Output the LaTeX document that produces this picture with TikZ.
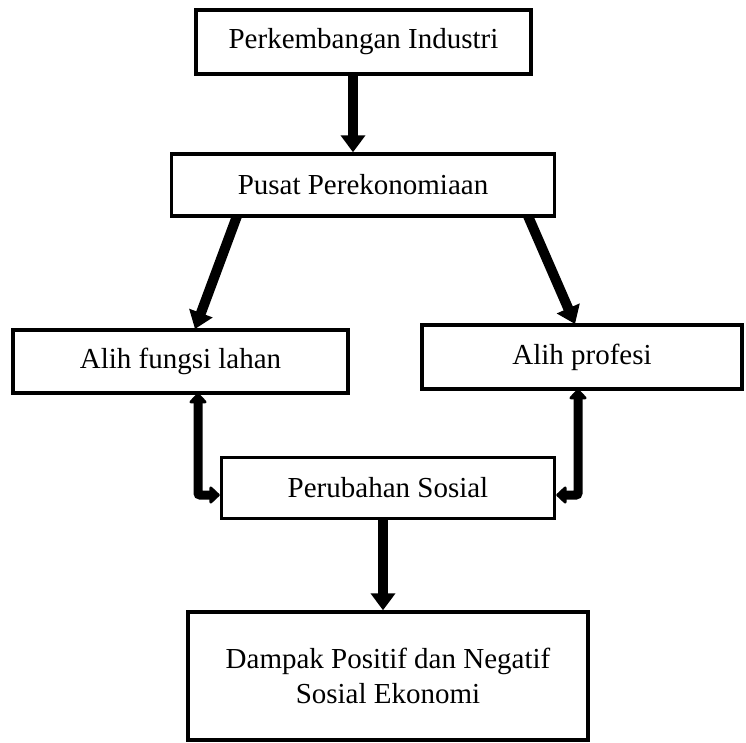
\documentclass[tikz,border=0pt]{standalone}
\usepackage{fontspec}
\setmainfont{Liberation Serif}
\usetikzlibrary{arrows.meta,calc}
\begin{document}
\begin{tikzpicture}[x=1pt,y=-1pt,
  box/.style={draw,line width=3.5pt,font=\fontsize{29}{35}\selectfont,align=center,inner sep=0pt},
  bigarrow/.style={line width=10pt,-{Triangle[width=24pt,length=17pt]}},
  elbow/.style={line width=9pt,{Triangle[width=20pt,length=11pt,round]}-{Triangle[width=20pt,length=11pt,round]},rounded corners=2pt}]
\useasboundingbox (0,0) rectangle (746,742);
\node[box,minimum width=335pt,minimum height=64pt] (b1) at (363.5,42) {Perkembangan Industri};
\node[box,minimum width=383pt,minimum height=62pt] (b2) at (363,185) {Pusat Perekonomiaan};
\node[box,minimum width=335pt,minimum height=63pt] (b3) at (180.5,361.5) {Alih fungsi lahan};
\node[box,minimum width=320pt,minimum height=64pt] (b4) at (582,357) {Alih profesi};
\node[box,minimum width=333pt,minimum height=61pt] (b5) at (388,488) {Perubahan Sosial};
\node[box,minimum width=400pt,minimum height=128pt] (b6) at (388,676) {Dampak Positif dan Negatif\\Sosial Ekonomi};
\draw[bigarrow] (b1.south -| 353,0) -- (b2.north -| 353,0);
\draw[bigarrow] (237,216) -- (195,329);
\draw[bigarrow] (528,216) -- (575,324);
\draw[elbow] (198,393) -- (198,495) -- (b5.west |- 0,495);
\draw[elbow] (578,389) -- (578,495) -- (b5.east |- 0,495);
\draw[bigarrow] (b5.south -| 383,0) -- (b6.north -| 383,0);
\end{tikzpicture}
\end{document}
